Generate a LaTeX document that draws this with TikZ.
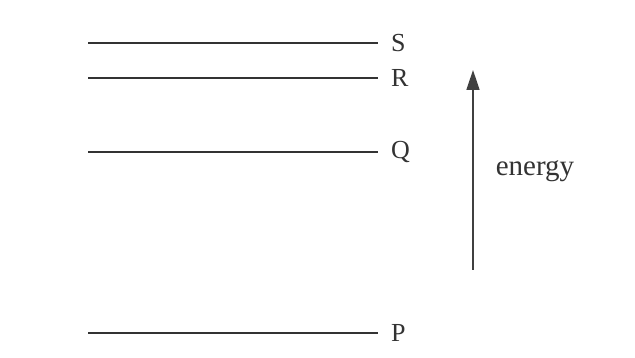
\documentclass[tikz,border=0pt]{standalone}
\usepackage{fontspec}
\setmainfont{Liberation Serif}
\usepackage{xcolor}
\usepackage{tikz}
\usetikzlibrary{arrows.meta, positioning}

\begin{document}
\begin{tikzpicture}[
    x=1pt, y=-1pt,
    level/.style={line width=1.6pt, black!80, shorten >=10pt},
    lbl/.style={font=\fontsize{26}{29}\selectfont, text=black!80, anchor=west, inner sep=3pt},
    arrow/.style={-{Triangle[length=20pt, width=13pt]}, line width=1.6pt, black!75},
]
\useasboundingbox[fill=white] (0,0) rectangle (635,358);

% energy levels
\node[lbl] (S) at (388,43) {S};
\node[lbl] (R) at (388,78) {R};
\node[lbl] (Q) at (388,152) {Q};
\node[lbl] (P) at (388,333) {P};
\coordinate (s0) at (88,43);
\coordinate (r0) at (88,78);
\coordinate (q0) at (88,152);
\coordinate (p0) at (88,333);

\draw[level] (s0) -- (S.west);
\draw[level] (r0) -- (R.west);
\draw[level] (q0) -- (Q.west);
\draw[level] (p0) -- (P.west);

% energy axis
\coordinate (base) at (473,270);
\coordinate (top) at (473,70);
\draw[arrow] (base) -- (top);
\node[lbl, anchor=center, font=\fontsize{29}{32}\selectfont] (energy) at (535,171) {energy};
\end{tikzpicture}
\end{document}
